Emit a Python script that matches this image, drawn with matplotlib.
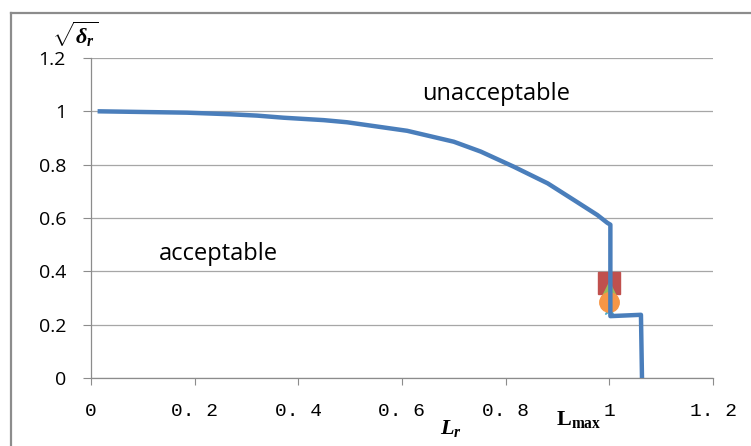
import matplotlib
matplotlib.use("Agg")
import matplotlib.pyplot as plt
from matplotlib.lines import Line2D

# математика - жирный шрифт с засечками, как в подписях осей
plt.rcParams['mathtext.fontset'] = 'custom'
plt.rcParams['mathtext.rm'] = 'Liberation Serif:bold'
plt.rcParams['mathtext.it'] = 'Liberation Serif:italic:bold'
plt.rcParams['mathtext.bf'] = 'Liberation Serif:bold'

# кривая допустимости
lr = [0.017, 0.185, 0.269, 0.32, 0.372, 0.449, 0.494, 0.61, 0.70, 0.752,
      0.816, 0.881, 0.932, 0.977, 0.996, 1.002, 1.002, 1.061, 1.063]
sqrt_dr = [1.0, 0.995, 0.989, 0.984, 0.976, 0.967, 0.959, 0.927, 0.886, 0.849,
           0.792, 0.730, 0.667, 0.611, 0.582, 0.575, 0.232, 0.237, 0.0]

# отдельные точки около Lmax
pt_x = [1.0, 1.0, 1.0, 1.0, 1.0]
pt_y = [0.355, 0.33, 0.29, 0.26, 0.285]
pt_marker = ['s', '^', 'x', '*', 'o']
pt_color = ['#C0504D', '#9BBB59', '#8064A2', '#4BACC6', '#F79646']
pt_size = [16, 11, 9, 9, 14]

xticks = [0, 0.2, 0.4, 0.6, 0.8, 1.0, 1.2]
xtick_labels = ['0', '0. 2', '0. 4', '0. 6', '0. 8', '1', '1. 2']
yticks = [0, 0.2, 0.4, 0.6, 0.8, 1.0, 1.2]
ytick_labels = ['0', '0.2', '0.4', '0.6', '0.8', '1', '1.2']

grey = '#8c8c8c'

fig = plt.figure(figsize=(7.51, 4.46), dpi=100)
ax = fig.add_axes([91 / 751, 1 - 378 / 446, 622 / 751, 320 / 446])

for i in range(len(pt_x)):
    ax.plot(pt_x[i], pt_y[i], marker=pt_marker[i], color=pt_color[i],
            markersize=pt_size[i], linestyle='none', zorder=2)
ax.plot(lr, sqrt_dr, color='#4A7EBB', linewidth=3.2, zorder=3,
        solid_joinstyle='round')

ax.set_xlim(0, 1.2)
ax.set_ylim(0, 1.2)
ax.set_xticks(xticks)
ax.set_xticklabels(xtick_labels, family='Liberation Mono', fontsize=14)
ax.set_yticks(yticks)
ax.set_yticklabels(ytick_labels, family='Open Sans', fontsize=14)
ax.tick_params(axis='x', direction='out', length=5, color=grey, pad=13)
ax.tick_params(axis='y', direction='out', length=6, color=grey, pad=12)
ax.grid(axis='y', color='#a6a6a6', linewidth=0.9)
ax.set_axisbelow(True)
for s in ['top', 'right']:
    ax.spines[s].set_visible(False)
for s in ['left', 'bottom']:
    ax.spines[s].set_color(grey)
    ax.spines[s].set_linewidth(0.9)

ax.text(0.781, 1.065, 'unacceptable', ha='center', va='center',
        family='Open Sans', fontsize=17)
ax.text(0.246, 0.465, 'acceptable', ha='center', va='center',
        family='Open Sans', fontsize=17)
ax.text(0.694, -0.19, r'$L_r$', ha='center', va='center',
        fontsize=16, clip_on=False)
ax.text(0.94, -0.155, r'$\mathbf{L_{max}}$', ha='center', va='center',
        fontsize=16, clip_on=False)
ax.text(-0.03, 1.29, r'$\sqrt{\delta_r}$', ha='center', va='center',
        fontsize=16, clip_on=False)

# рамка области диаграммы
fig.add_artist(Line2D([11 / 751, 11 / 751], [0, 1 - 13 / 446],
                      color=grey, linewidth=1.6))
fig.add_artist(Line2D([11 / 751, 1], [1 - 13 / 446, 1 - 13 / 446],
                      color=grey, linewidth=1.6))

fig.savefig('out.png', dpi=100)
